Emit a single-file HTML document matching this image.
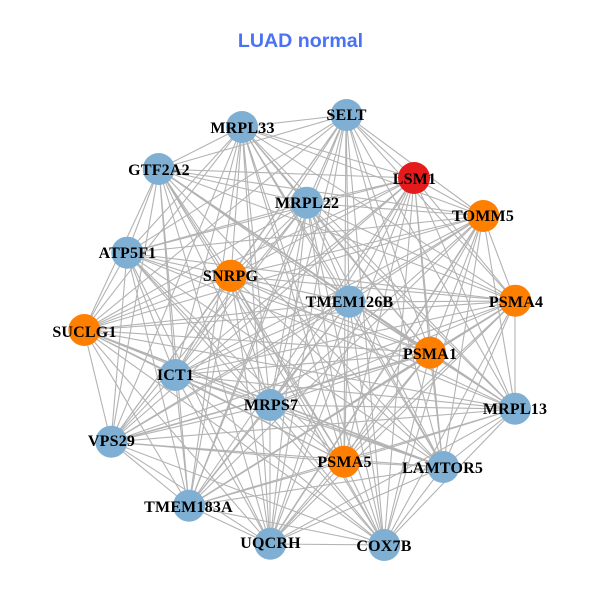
<!DOCTYPE html>
<html><head><meta charset="utf-8"><style>
html,body{margin:0;padding:0;background:#fff;width:600px;height:600px;overflow:hidden}
svg{display:block}
.l{font-family:"Liberation Serif",serif;font-weight:bold;font-size:16px;fill:#000;text-anchor:middle;letter-spacing:.2px}
.t{font-family:"Liberation Sans",sans-serif;font-weight:bold;font-size:19.6px;fill:#4a72f5;text-anchor:middle}
</style></head><body>
<svg xmlns="http://www.w3.org/2000/svg" width="600" height="600" viewBox="0 0 600 600">
<rect width="600" height="600" fill="#fff"/>
<g stroke="#b3b3b3" stroke-width="1.1" fill="none">
<path d="M346 115L242 127M346 115L159 169M346 115L414 178M346 115L307 203M346 115L483 216M346 115L127 253M346 115L231 276M346 115L349 302M346 115L515 301M346 115L84 330M346 115L430 353M346 115L175 375M346 115L270 405M346 115L515 409M346 115L111 442M346 115L344 462M346 115L443 467M346 115L189 506M346 115L270 544M346 115L384 545"/>
<path d="M242 127L159 169M242 127L414 178M242 127L307 203M242 127L483 216M242 127L127 253M242 127L231 276M242 127L349 302M242 127L515 301M242 127L84 330M242 127L430 353M242 127L175 375M242 127L270 405M242 127L515 409M242 127L111 442M242 127L344 462M242 127L443 467M242 127L189 506M242 127L270 544M242 127L384 545"/>
<path d="M159 169L414 178M159 169L307 203M159 169L483 216M159 169L127 253M159 169L231 276M159 169L349 302M159 169L515 301M159 169L84 330M159 169L430 353M159 169L175 375M159 169L270 405M159 169L515 409M159 169L111 442M159 169L344 462M159 169L443 467M159 169L189 506M159 169L270 544M159 169L384 545"/>
<path d="M414 178L307 203M414 178L483 216M414 178L127 253M414 178L231 276M414 178L349 302M414 178L515 301M414 178L84 330M414 178L430 353M414 178L175 375M414 178L270 405M414 178L515 409M414 178L111 442M414 178L344 462M414 178L443 467M414 178L189 506M414 178L270 544M414 178L384 545"/>
<path d="M307 203L483 216M307 203L127 253M307 203L231 276M307 203L349 302M307 203L515 301M307 203L84 330M307 203L430 353M307 203L175 375M307 203L270 405M307 203L515 409M307 203L111 442M307 203L344 462M307 203L443 467M307 203L189 506M307 203L270 544M307 203L384 545"/>
<path d="M483 216L127 253M483 216L231 276M483 216L349 302M483 216L515 301M483 216L84 330M483 216L430 353M483 216L175 375M483 216L270 405M483 216L515 409M483 216L111 442M483 216L344 462M483 216L443 467M483 216L189 506M483 216L270 544M483 216L384 545"/>
<path d="M127 253L231 276M127 253L349 302M127 253L515 301M127 253L84 330M127 253L430 353M127 253L175 375M127 253L270 405M127 253L515 409M127 253L111 442M127 253L344 462M127 253L443 467M127 253L189 506M127 253L270 544M127 253L384 545"/>
<path d="M231 276L349 302M231 276L515 301M231 276L84 330M231 276L430 353M231 276L175 375M231 276L270 405M231 276L515 409M231 276L111 442M231 276L344 462M231 276L443 467M231 276L189 506M231 276L270 544M231 276L384 545"/>
<path d="M349 302L515 301M349 302L84 330M349 302L430 353M349 302L175 375M349 302L270 405M349 302L515 409M349 302L111 442M349 302L344 462M349 302L443 467M349 302L189 506M349 302L270 544M349 302L384 545"/>
<path d="M515 301L84 330M515 301L430 353M515 301L175 375M515 301L270 405M515 301L515 409M515 301L111 442M515 301L344 462M515 301L443 467M515 301L189 506M515 301L270 544M515 301L384 545"/>
<path d="M84 330L430 353M84 330L175 375M84 330L270 405M84 330L515 409M84 330L111 442M84 330L344 462M84 330L443 467M84 330L189 506M84 330L270 544M84 330L384 545"/>
<path d="M430 353L175 375M430 353L270 405M430 353L515 409M430 353L111 442M430 353L344 462M430 353L443 467M430 353L189 506M430 353L270 544M430 353L384 545"/>
<path d="M175 375L270 405M175 375L515 409M175 375L111 442M175 375L344 462M175 375L443 467M175 375L189 506M175 375L270 544M175 375L384 545"/>
<path d="M270 405L515 409M270 405L111 442M270 405L344 462M270 405L443 467M270 405L189 506M270 405L270 544M270 405L384 545"/>
<path d="M515 409L111 442M515 409L344 462M515 409L443 467M515 409L189 506M515 409L270 544M515 409L384 545"/>
<path d="M111 442L344 462M111 442L443 467M111 442L189 506M111 442L270 544M111 442L384 545"/>
<path d="M344 462L443 467M344 462L189 506M344 462L270 544M344 462L384 545"/>
<path d="M443 467L189 506M443 467L270 544M443 467L384 545"/>
<path d="M189 506L270 544M189 506L384 545"/>
<path d="M270 544L384 545"/>
</g>
<g stroke="#b3b3b3" stroke-width="1.6" fill="none">
<path d="M159 169L430 353M84 330L443 467M111 442L430 353M189 506L515 301M270 544L483 216"/>
</g>
<g>
<circle cx="346.5" cy="115" r="16" fill="#7fb0d3"/>
<circle cx="242" cy="127" r="16" fill="#7fb0d3"/>
<circle cx="158.7" cy="169" r="16" fill="#7fb0d3"/>
<circle cx="414" cy="178" r="16" fill="#e41a1c"/>
<circle cx="306.7" cy="202.7" r="16" fill="#7fb0d3"/>
<circle cx="483.3" cy="216" r="16" fill="#ff7f00"/>
<circle cx="127.3" cy="252.7" r="16" fill="#7fb0d3"/>
<circle cx="230.7" cy="275.7" r="16" fill="#ff7f00"/>
<circle cx="349.3" cy="301.7" r="16" fill="#7fb0d3"/>
<circle cx="515.3" cy="300.7" r="16" fill="#ff7f00"/>
<circle cx="84.3" cy="330" r="16" fill="#ff7f00"/>
<circle cx="430" cy="352.7" r="16" fill="#ff7f00"/>
<circle cx="175.3" cy="375" r="16" fill="#7fb0d3"/>
<circle cx="270.3" cy="405" r="16" fill="#7fb0d3"/>
<circle cx="515" cy="408.7" r="16" fill="#7fb0d3"/>
<circle cx="111.3" cy="441.7" r="16" fill="#7fb0d3"/>
<circle cx="344" cy="461.7" r="16" fill="#ff7f00"/>
<circle cx="443.3" cy="467" r="16" fill="#7fb0d3"/>
<circle cx="189" cy="505.7" r="16" fill="#7fb0d3"/>
<circle cx="270.3" cy="543.7" r="16" fill="#7fb0d3"/>
<circle cx="384.3" cy="545" r="16" fill="#7fb0d3"/>
</g>
<text class="t" x="300.5" y="47">LUAD normal</text>
<g>
<text class="l" x="346.5" y="120">SELT</text>
<text class="l" x="242.5" y="133">MRPL33</text>
<text class="l" x="159" y="175">GTF2A2</text>
<text class="l" x="414.5" y="184">LSM1</text>
<text class="l" x="307" y="208">MRPL22</text>
<text class="l" x="483" y="221">TOMM5</text>
<text class="l" x="127.5" y="258">ATP5F1</text>
<text class="l" x="230.5" y="281">SNRPG</text>
<text class="l" x="349.5" y="307">TMEM126B</text>
<text class="l" x="516" y="307">PSMA4</text>
<text class="l" x="84.5" y="337">SUCLG1</text>
<text class="l" x="430" y="359">PSMA1</text>
<text class="l" x="175.5" y="380">ICT1</text>
<text class="l" x="271" y="410">MRPS7</text>
<text class="l" x="515" y="414">MRPL13</text>
<text class="l" x="111.5" y="446">VPS29</text>
<text class="l" x="344.5" y="467">PSMA5</text>
<text class="l" x="442.5" y="473">LAMTOR5</text>
<text class="l" x="188.5" y="512">TMEM183A</text>
<text class="l" x="270.5" y="548">UQCRH</text>
<text class="l" x="384" y="551">COX7B</text>
</g>
</svg>
</body></html>
